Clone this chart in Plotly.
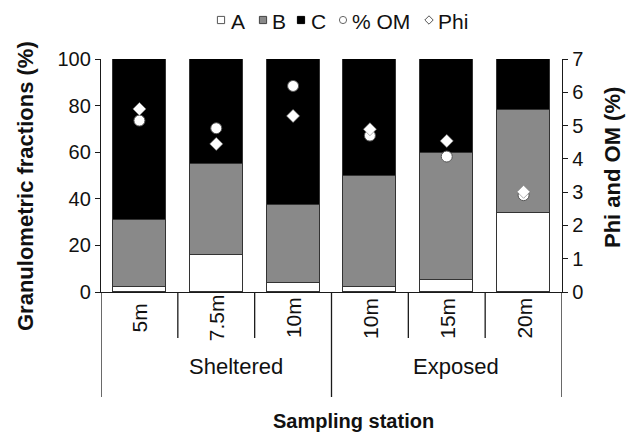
import plotly.graph_objects as go

# --- data -------------------------------------------------------------
stations = ["5m", "7.5m", "10m", "10m", "15m", "20m"]
groups = ["Sheltered", "Exposed"]
stations_per_group = [3, 3]

frac_a = [2, 16, 4, 2, 5, 34]          # %
frac_b = [29, 39, 33.5, 48, 54.5, 44]  # %
frac_c = [69, 45, 62.5, 50, 40.5, 22]  # %
om_pct = [5.15, 4.92, 6.19, 4.70, 4.07, 2.91]
phi = [5.50, 4.45, 5.29, 4.89, 4.54, 3.01]

series_names = ["A", "B", "C", "% OM", "Phi"]

# --- geometry ---------------------------------------------------------
W, H = 635, 435
ML, MR, MT, MB = 101, 73, 59, 143
PW, PH = W - ML - MR, H - MT - MB
FONT = "Liberation Sans, Arial, sans-serif"
LINE = "#1a1a1a"


def fx(px):
    return (px - ML) / PW


def fy(py):
    return (H - MB - py) / PH


xpos = list(range(len(stations)))

fig = go.Figure()

bar_style = dict(width=0.69, marker_line=dict(color="#333333", width=1))
for vals, color, name in zip([frac_a, frac_b, frac_c],
                             ["#ffffff", "#898989", "#000000"],
                             series_names[:3]):
    fig.add_trace(go.Bar(x=xpos, y=vals, name=name, marker_color=color,
                         showlegend=False, **bar_style))

fig.add_trace(go.Scatter(
    x=xpos, y=om_pct, name=series_names[3], yaxis="y2", mode="markers",
    marker=dict(symbol="circle", size=11, color="#ffffff",
                line=dict(color="#555555", width=1)),
    showlegend=False))
fig.add_trace(go.Scatter(
    x=xpos, y=phi, name=series_names[4], yaxis="y2", mode="markers",
    marker=dict(symbol="diamond", size=10, color="#ffffff",
                line=dict(color="#777777", width=0.6)),
    showlegend=False))

# --- category / group dividers below the axis ---------------------------
shapes = []
n = len(stations)
group_edges = [-0.5]
for k in stations_per_group:
    group_edges.append(group_edges[-1] + k)
for i in range(n + 1):
    xb = i - 0.5
    long = xb in group_edges
    shapes.append(dict(type="line", xref="x", yref="paper",
                       x0=xb, x1=xb, y0=0, y1=fy(397 if long else 338),
                       line=dict(color=LINE, width=1.3)))

annotations = []
# station labels, rotated
for x, s in zip(xpos, stations):
    annotations.append(dict(x=x, y=fy(318), xref="x", yref="paper",
                            text=s, textangle=-90, showarrow=False,
                            xanchor="center", yanchor="middle",
                            font=dict(size=21, color="#111")))
# group labels
for gname, gx in zip(groups, [1.26, 4.12]):
    annotations.append(dict(x=gx, y=fy(366), xref="x", yref="paper",
                            text=gname, showarrow=False,
                            xanchor="center", yanchor="middle",
                            font=dict(size=22, color="#111")))
# axis titles
annotations.append(dict(x=fx(353), y=fy(421), xref="paper", yref="paper",
                        text="<b>Sampling station</b>", showarrow=False,
                        xanchor="center", yanchor="middle",
                        font=dict(size=20, color="#111")))
annotations.append(dict(x=fx(25), y=fy(186), xref="paper", yref="paper",
                        text="<b>Granulometric fractions (%)</b>",
                        textangle=-90, showarrow=False,
                        xanchor="center", yanchor="middle",
                        font=dict(size=22, color="#111")))
annotations.append(dict(x=fx(612), y=fy(168), xref="paper", yref="paper",
                        text="<b>Phi and OM (%)</b>",
                        textangle=-90, showarrow=False,
                        xanchor="center", yanchor="middle",
                        font=dict(size=22, color="#111")))

# --- legend row along the top -------------------------------------------
key_x = [221, 263, 301, 343, 429]
text_x = [229, 270, 309, 350, 436]
ky = 20
r = 3.6
key_fill = ["#ffffff", "#898989", "#000000", "#ffffff", "#ffffff"]
key_line = ["#555555", "#444444", "#000000", "#666666", "#555555"]
key_kind = ["rect", "rect", "rect", "circle", "diamond"]
for kind, fill, lc, cx, tx, name in zip(key_kind, key_fill, key_line,
                                        key_x, text_x, series_names):
    if kind == "diamond":
        d = r + 0.6
        path = (f"M {fx(cx)},{fy(ky - d)} L {fx(cx + d)},{fy(ky)} "
                f"L {fx(cx)},{fy(ky + d)} L {fx(cx - d)},{fy(ky)} Z")
        shapes.append(dict(type="path", xref="paper", yref="paper",
                           path=path, fillcolor=fill,
                           line=dict(color=lc, width=1)))
    else:
        shapes.append(dict(type=kind, xref="paper", yref="paper",
                           x0=fx(cx - r), x1=fx(cx + r),
                           y0=fy(ky + r), y1=fy(ky - r),
                           fillcolor=fill, line=dict(color=lc, width=1)))
    annotations.append(dict(x=fx(tx), y=fy(ky + 1), xref="paper",
                            yref="paper", text=name, showarrow=False,
                            xanchor="left", yanchor="middle",
                            font=dict(size=21, color="#111")))

fig.update_layout(
    width=W, height=H,
    margin=dict(l=ML, r=MR, t=MT, b=MB, pad=0),
    paper_bgcolor="white", plot_bgcolor="white",
    barmode="stack", bargap=0,
    font=dict(family=FONT, size=20, color="#111"),
    showlegend=False,
    xaxis=dict(range=[-0.5, n - 0.5], showticklabels=False, ticks="",
               showgrid=False, zeroline=False, showline=True,
               linecolor=LINE, linewidth=1.3, fixedrange=True),
    yaxis=dict(range=[0, 100], dtick=20, ticks="outside", ticklen=5,
               tickwidth=1.3, tickcolor=LINE, showgrid=False,
               zeroline=False, showline=True, linecolor=LINE,
               linewidth=1.3, tickfont=dict(size=20)),
    yaxis2=dict(range=[0, 7], dtick=1, overlaying="y", side="right",
                ticks="outside", ticklen=5, tickwidth=1.3, tickcolor=LINE,
                showgrid=False, zeroline=False, showline=True,
                linecolor=LINE, linewidth=1.3, tickfont=dict(size=20)),
    shapes=shapes,
    annotations=annotations,
)

fig.write_html("out.html")
